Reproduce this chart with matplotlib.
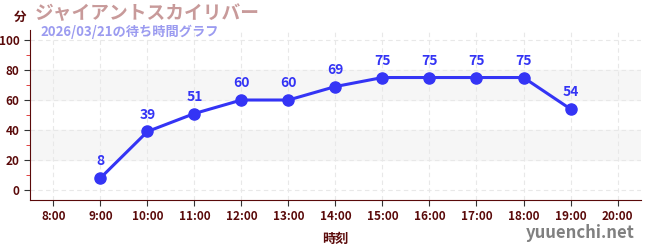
import matplotlib.pyplot as plt

plt.rcParams['font.family'] = ['Noto Sans CJK JP', 'DejaVu Sans']

hours = [9, 10, 11, 12, 13, 14, 15, 16, 17, 18, 19]
waits = [8, 39, 51, 60, 60, 69, 75, 75, 75, 75, 54]
tick_hours = list(range(8, 21))
tick_labels = [f'{h}:00' for h in tick_hours]

dark = '#5a0a0a'
blue = '#3434f5'

fig = plt.figure(figsize=(6.5, 2.5), dpi=100)
ax = fig.add_axes([30 / 650, 50 / 250, 611 / 650, 170 / 250])

ax.set_xlim(7.5, 20.5)
ax.set_ylim(-6.7, 106.7)

# grey bands
for lo, hi in [(20, 40), (60, 80)]:
    ax.axhspan(lo, hi, color='#f6f6f6', zorder=0)

ax.set_xticks(tick_hours)
ax.set_xticklabels(tick_labels)
ax.set_yticks(range(0, 101, 20))
ax.set_yticks(range(10, 100, 20), minor=True)
ax.grid(True, which='major', color='#e8e8e8', linestyle=(0, (4, 3)), linewidth=0.8)
ax.set_axisbelow(True)

ax.plot(hours, waits, color=blue, linewidth=2.2, marker='o', markersize=8, zorder=3)
for h, w in zip(hours, waits):
    ax.annotate(str(w), (h, w), xytext=(0, 7), textcoords='offset points',
                ha='center', va='bottom', color=blue, fontsize=10, fontweight='bold')

for s in ['top', 'right']:
    ax.spines[s].set_visible(False)
ax.spines['left'].set_color(dark)
ax.spines['bottom'].set_color(dark)
ax.tick_params(axis='both', which='major', colors='#333333', labelcolor=dark, labelsize=8.5, length=4)
ax.tick_params(axis='y', which='minor', colors='#dd2222', length=3)
for lab in ax.get_xticklabels() + ax.get_yticklabels():
    lab.set_fontweight('bold')

ax.set_xlabel('時刻', color=dark, fontsize=9.5, fontweight='bold', labelpad=6)

fig.text(14 / 650, 1 - 17 / 250, '分', color=dark, fontsize=9, fontweight='bold', ha='left', va='center')
fig.text(35 / 650, 1 - 14 / 250, 'ジャイアントスカイリバー', color='#c89a9a', fontsize=13.5, fontweight='bold',
         ha='left', va='center')
fig.text(40 / 650, 1 - 32 / 250, '2026/03/21の待ち時間グラフ', color='#9b9bf0', fontsize=9.5, fontweight='bold',
         ha='left', va='center')
fig.text(635 / 650, 1 - 233 / 250, 'yuuenchi.net', color='#808080', fontsize=12, fontweight='bold',
         ha='right', va='center')

fig.savefig('out.png', dpi=100)
